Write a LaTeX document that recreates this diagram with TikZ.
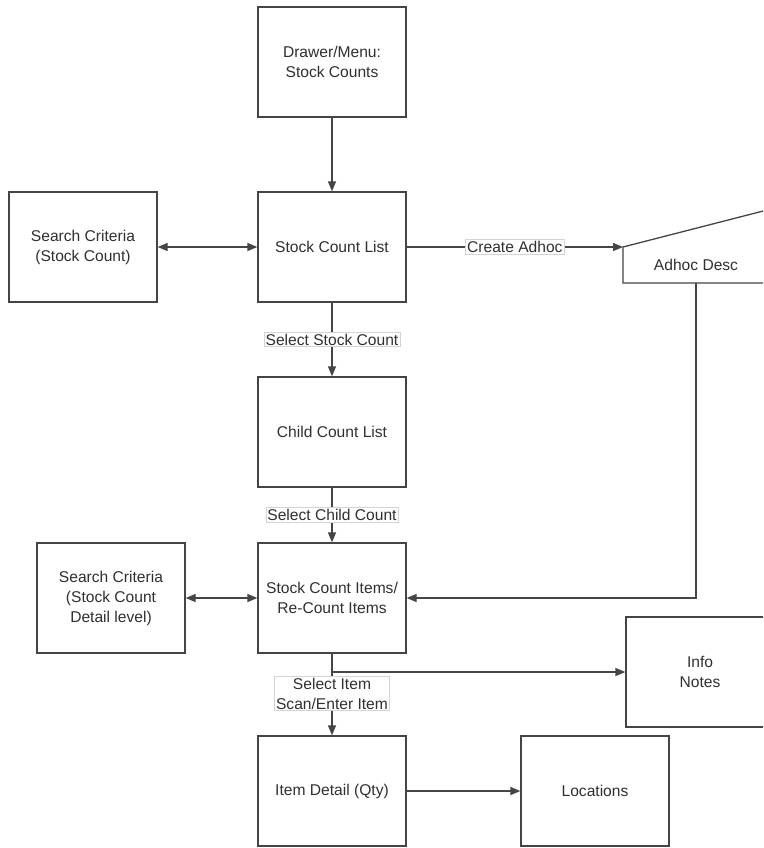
\documentclass[tikz,border=0pt]{standalone}
\usepackage{fontspec}
\setmainfont{Liberation Sans}
\usetikzlibrary{arrows.meta}
\definecolor{linec}{HTML}{454545}
\definecolor{textc}{HTML}{303030}
\definecolor{lblc}{HTML}{D4D4D4}
\begin{document}
\begin{tikzpicture}[x=1pt,y=-1pt,
  every node/.style={font=\fontsize{15.6}{20}\selectfont, text=textc},
  box/.style={draw=linec, line width=1.3pt, minimum width=148pt, minimum height=110pt, align=center, inner sep=2pt},
  lbl/.style={draw=lblc, line width=0.6pt, fill=white, inner sep=1.5pt, align=center},
  conn/.style={draw=linec, line width=1.3pt},
  arr/.style={conn, -{Triangle[length=10pt,width=8pt]}},
  darr/.style={conn, {Triangle[length=10pt,width=8pt]}-{Triangle[length=10pt,width=8pt]}}]
\clip (0,0) rectangle (763,848);
\fill[white] (0,0) rectangle (763,848);

\node[box] (drawer) at (332,62) {Drawer/Menu:\\Stock Counts};
\node[box] (list) at (332,247) {Stock Count List};
\node[box] (sc1) at (83,247) {Search Criteria\\(Stock Count)};
\node[box] (child) at (332,432) {Child Count List};
\node[box] (items) at (332,598) {Stock Count Items/\\Re-Count Items};
\node[box] (sc2) at (111,598) {Search Criteria\\(Stock Count\\Detail level)};
\node[box] (detail) at (332,791) {Item Detail (Qty)};
\node[box] (loc) at (595,791) {Locations};
\node[box] (info) at (700,672) {Info\\Notes};

% Adhoc Desc (manual input shape)
\coordinate (adTL) at (623,247);
\coordinate (adTR) at (771,209);
\coordinate (adBR) at (771,283);
\coordinate (adBL) at (623,283);
\coordinate (adB) at (696,283);
\draw[linec, line width=1.3pt] (adTL) -- (adTR) -- (adBR) -- (adBL) -- cycle;
\node (adhoc) at (696,265) {Adhoc Desc};

% connectors
\draw[arr] (drawer.south) -- (list.north);
\draw[darr] (sc1.east) -- (list.west);
\draw[arr] (list.east) -- node[lbl] {Create Adhoc} (adTL);
\draw[arr] (list.south) -- node[lbl] {Select Stock Count} (child.north);
\draw[arr] (child.south) -- node[lbl] {Select Child Count} (items.north);
\draw[darr] (sc2.east) -- (items.west);
\draw[arr] (adB) |- (items.east);
\coordinate (branch) at (items.south |- info.west);
\draw[conn] (items.south) -- (branch);
\draw[arr] (branch) -- (info.west);
\draw[arr] (branch) -- node[lbl, pos=0.34] {Select Item\\Scan/Enter Item} (detail.north);
\draw[arr] (detail.east) -- (loc.west);
\end{tikzpicture}
\end{document}
